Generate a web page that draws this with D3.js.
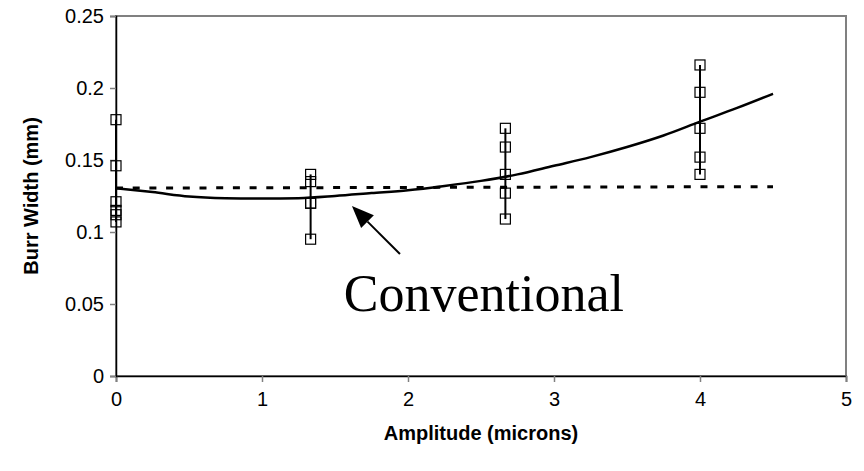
<!DOCTYPE html>
<html>
<head>
<meta charset="utf-8">
<script src="https://cdn.jsdelivr.net/npm/d3@7"></script>
<style>
  body { margin: 0; background: #fff; }
  .ejes text { font-family: Arial, "Liberation Sans", sans-serif; font-size: 20px; fill: #000; }
  .titulo { font-family: Arial, "Liberation Sans", sans-serif; font-size: 20px; font-weight: bold; }
</style>
</head>
<body>
<div id="graf"></div>
<script>
// datos
const amplitudes = [0, 1.333, 2.667, 4]
const medidas = [
  [0.178, 0.146, 0.121, 0.115, 0.112, 0.107],
  [0.14, 0.135, 0.12, 0.12, 0.095],
  [0.172, 0.159, 0.14, 0.127, 0.109],
  [0.216, 0.197, 0.172, 0.152, 0.14]
]
// curva de tendencia (solida)
const tendX = [0, 0.25, 0.5, 0.75, 1, 1.25, 1.5, 1.75, 2, 2.25, 2.5, 2.75, 3, 3.25, 3.5, 3.75, 4, 4.25, 4.5]
const tendY = [0.1303, 0.1277, 0.1247, 0.1235, 0.1232, 0.1235, 0.125, 0.127, 0.129, 0.132, 0.1355, 0.140, 0.146, 0.152, 0.159, 0.167, 0.1766, 0.186, 0.196]
// linea convencional (punteada)
const convX = [0, 4.5]
const convY = [0.1305, 0.1315]
// flecha de la anotacion: [cola, punta]
const flechaX = [1.945, 1.616]
const flechaY = [0.0847, 0.118]
const xTicks = [0, 1, 2, 3, 4, 5]
const yTicks = [0, 0.05, 0.1, 0.15, 0.2, 0.25]

const anchoTotal = 864
const altoTotal = 471
const margin = { top: 16, bottom: 95, left: 116, right: 18 }
const ancho = anchoTotal - margin.left - margin.right
const alto = altoTotal - margin.top - margin.bottom

const svg = d3.select('#graf')
  .append('svg')
  .attr('width', anchoTotal)
  .attr('height', altoTotal)

const g = svg.append('g')
  .attr('transform', `translate(${margin.left}, ${margin.top})`)

const x = d3.scaleLinear().domain([0, 5]).range([0, ancho])
const y = d3.scaleLinear().domain([0, 0.25]).range([alto, 0])

// borde del area
g.append('rect')
  .attr('x', 0).attr('y', 0)
  .attr('width', ancho).attr('height', alto)
  .attr('fill', 'none')
  .attr('stroke', '#808080')
  .attr('stroke-width', 2)

const xAxisGroup = g.append('g')
  .attr('class', 'ejes')
  .attr('transform', `translate(0, ${alto})`)
  .call(d3.axisBottom(x).tickValues(xTicks).tickSize(6).tickPadding(10).tickFormat(d3.format('d')))
const yAxisGroup = g.append('g')
  .attr('class', 'ejes')
  .call(d3.axisLeft(y).tickValues(yTicks).tickSize(6).tickPadding(6).tickFormat(d => d === 0 ? '0' : String(d)))
g.selectAll('.ejes .domain').attr('stroke', '#000').attr('stroke-width', 1.5)
g.selectAll('.ejes .tick line').attr('stroke', '#808080').attr('stroke-width', 1.5)

// linea convencional
const linea = d3.line().x(d => x(d[0])).y(d => y(d[1]))
g.append('path')
  .datum(convX.map((v, i) => [v, convY[i]]))
  .attr('d', linea)
  .attr('fill', 'none')
  .attr('stroke', '#000')
  .attr('stroke-width', 3)
  .attr('stroke-dasharray', '7,9.7')

// tendencia
g.append('path')
  .datum(tendX.map((v, i) => [v, tendY[i]]))
  .attr('d', linea.curve(d3.curveMonotoneX))
  .attr('fill', 'none')
  .attr('stroke', '#000')
  .attr('stroke-width', 2.5)

// barras de error
g.selectAll('.barra')
  .data(amplitudes)
  .enter()
  .append('line')
  .attr('x1', d => x(d)).attr('x2', d => x(d))
  .attr('y1', (d, i) => y(d3.min(medidas[i])))
  .attr('y2', (d, i) => y(d3.max(medidas[i])))
  .attr('stroke', '#000')
  .attr('stroke-width', 2)

// puntos
const puntos = []
amplitudes.forEach((a, i) => medidas[i].forEach(v => puntos.push([a, v])))
g.selectAll('.punto')
  .data(puntos)
  .enter()
  .append('rect')
  .attr('x', d => x(d[0]) - 5)
  .attr('y', d => y(d[1]) - 5)
  .attr('width', 10).attr('height', 10)
  .attr('fill', 'none')
  .attr('stroke', '#000')
  .attr('stroke-width', 1.2)

// flecha
const x0 = x(flechaX[0]), y0 = y(flechaY[0])
const x1 = x(flechaX[1]), y1 = y(flechaY[1])
const ang = Math.atan2(y1 - y0, x1 - x0)
const largo = 22, medio = 9
const bx = x1 - largo * Math.cos(ang), by = y1 - largo * Math.sin(ang)
g.append('line')
  .attr('x1', x0).attr('y1', y0)
  .attr('x2', bx).attr('y2', by)
  .attr('stroke', '#000')
  .attr('stroke-width', 2)
g.append('path')
  .attr('d', `M${x1},${y1} L${bx + medio * Math.sin(ang)},${by - medio * Math.cos(ang)} L${bx - medio * Math.sin(ang)},${by + medio * Math.cos(ang)} Z`)
  .attr('fill', '#000')

g.append('text')
  .attr('x', x(2.52))
  .attr('y', y(0.045))
  .attr('text-anchor', 'middle')
  .style('font-family', '"Liberation Serif", "Times New Roman", serif')
  .style('font-size', '52px')
  .text('Conventional')

// titulos
svg.append('text')
  .attr('class', 'titulo')
  .attr('text-anchor', 'middle')
  .attr('x', margin.left + ancho / 2)
  .attr('y', 440)
  .text('Amplitude (microns)')
svg.append('text')
  .attr('class', 'titulo')
  .attr('text-anchor', 'middle')
  .attr('transform', `translate(38, ${margin.top + alto / 2}) rotate(-90)`)
  .text('Burr Width (mm)')
</script>
</body>
</html>
